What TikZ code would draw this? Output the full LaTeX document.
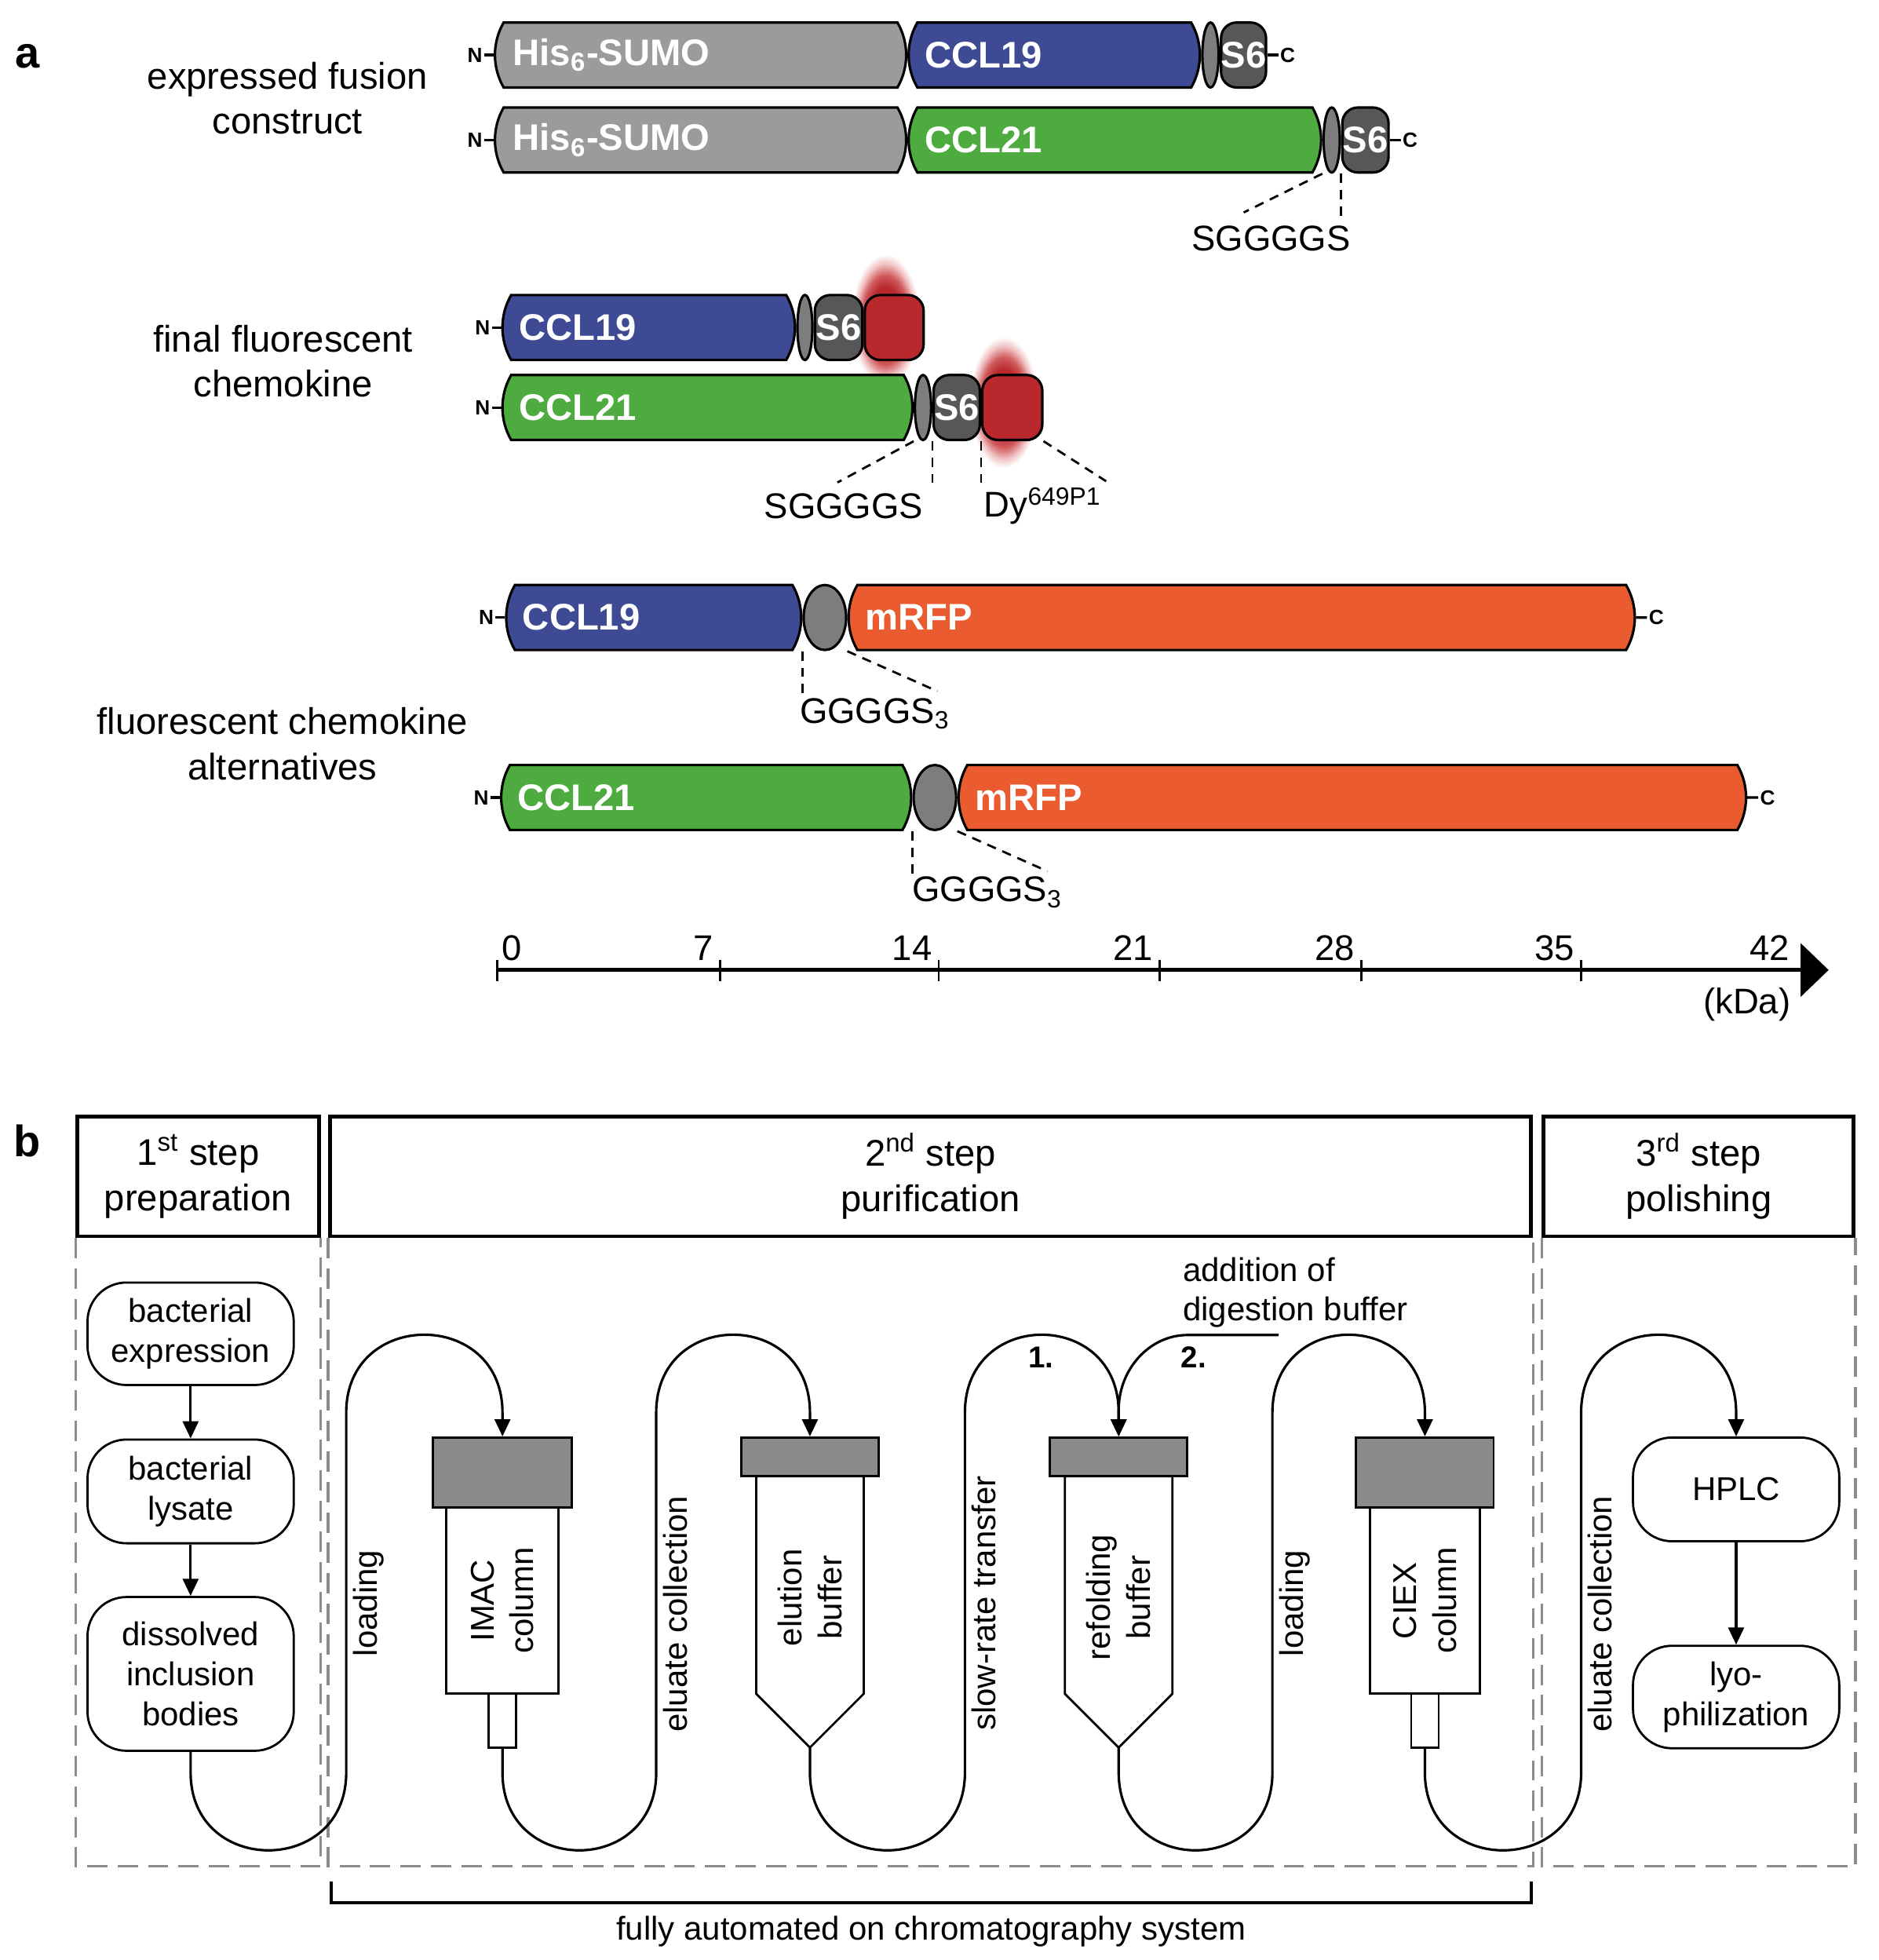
\documentclass[tikz,border=0pt]{standalone}
\usepackage{fontspec}
\setmainfont{Liberation Sans}
\usepackage{xcolor}
\usepackage{tikz}
\usetikzlibrary{arrows.meta,positioning,calc,shapes.misc,shapes.geometric}
\definecolor{sumo}{HTML}{9B9B9B}
\definecolor{blue19}{HTML}{3E4A94}
\definecolor{green21}{HTML}{4EAB3F}
\definecolor{linkgray}{HTML}{7D7D7D}
\definecolor{s6gray}{HTML}{575757}
\definecolor{dyered}{HTML}{B8282D}
\definecolor{dyehalo}{HTML}{D0595C}
\definecolor{dyepale}{HTML}{F1C4C5}
\definecolor{mrfp}{HTML}{EA5B30}
\definecolor{capgray}{HTML}{8A8A8A}
\definecolor{dashgray}{HTML}{8C8C8C}
\pgfdeclareradialshading{dyeglow}{\pgfpointorigin}{color(0bp)=(dyered); color(12.5bp)=(dyered); color(17bp)=(dyehalo); color(21.5bp)=(dyepale); color(25bp)=(white); color(50bp)=(white)}

\begin{document}
\begin{tikzpicture}[x=0.016cm, y=-0.016cm,
  w/.style={minimum width=#1*0.016cm},
  ht/.style={minimum height=#1*0.016cm},
  dom/.style={rounded rectangle, rounded rectangle arc length=60, draw=black, line width=0.9pt, minimum height=0.832cm, inner sep=0pt},
  knob/.style={rectangle, rounded corners=0.2cm, draw=black, line width=0.9pt, minimum height=0.832cm, inner sep=0pt},
  lnk/.style={ellipse, draw=black, line width=0.9pt, minimum height=0.832cm, inner sep=0pt, fill=linkgray},
  dlab/.style={font=\fontsize{13.5}{16}\selectfont\bfseries, text=white, inner sep=0pt},
  term/.style={font=\fontsize{7.5}{9}\selectfont\bfseries, inner sep=0.5pt},
  stub/.style={line width=0.9pt},
  seq/.style={font=\fontsize{13}{15}\selectfont, inner sep=0pt},
  dsh/.style={line width=0.8pt, dash pattern=on 0.12cm off 0.09cm},
  grp/.style={font=\fontsize{13.5}{16.5}\selectfont, align=center},
  panlab/.style={font=\fontsize{16}{18}\selectfont\bfseries},
  hdr/.style={draw, line width=1.4pt, align=center, inner sep=0pt, font=\fontsize{13.5}{16.5}\selectfont},
  panel/.style={draw=dashgray, line width=1pt, dash pattern=on 0.26cm off 0.13cm},
  txt/.style={font=\fontsize{12}{14.5}\selectfont},
  proc/.style={txt, draw, line width=0.8pt, rounded corners=0.5cm, align=center, inner sep=0pt, w=165},
  colcap/.style={draw, line width=0.8pt, fill=capgray, inner sep=0pt},
  colbody/.style={txt, draw, line width=0.8pt, fill=white, inner sep=0pt, align=center},
  tube/.style={line width=0.9pt, -{Triangle[length=0.22cm,width=0.2cm]}},
  vlab/.style={txt, rotate=90, anchor=north, inner sep=2pt},
  num/.style={font=\fontsize{11}{13}\selectfont\bfseries}]
\useasboundingbox (0,0) rectangle (1503,1568);

% ---------- a: constructs ----------
\node[panlab] (la) at (22,45) {a};
\node[grp] (g1) at (230,78.5) {expressed fusion\\construct};
\node[grp] (g2) at (226.5,289) {final fluorescent\\chemokine};
\node[grp] (g3) at (226,595) {fluorescent chemokine\\alternatives};

% halo of the dye
\shade[shading=dyeglow] (708.5,256) ellipse [x radius=0.44cm, y radius=0.84cm];
\shade[shading=dyeglow] (803,322) ellipse [x radius=0.44cm, y radius=0.84cm];

% row 1
\node[dom, fill=sumo, w=329, anchor=west] (his1) at (395,44) {};
\node[dom, fill=blue19, w=233, right=0pt of his1] (cc1) {};
\node[lnk, w=13, right=0pt of cc1] (lk1) {};
\node[knob, fill=s6gray, w=36, right=0pt of lk1] (sx1) {};
\node[term, left=0.12cm of his1] (na1) {N};
\node[term, right=0.14cm of sx1] (ca1) {C};
\draw[stub] (na1) -- (his1);
\draw[stub] (sx1) -- (ca1);
\node[dlab, right=0.24cm of his1.west] (th1) {His\textsubscript{6}-SUMO};
\node[dlab, right=0.22cm of cc1.west] (tc1) {CCL19};
\node[dlab] (ts1) at (sx1) {S6};

% row 2
\node[dom, fill=sumo, w=329, anchor=west] (his2) at (395,112) {};
\node[dom, fill=green21, w=330, right=0pt of his2] (cc2) {};
\node[lnk, w=13, right=0pt of cc2] (lk2) {};
\node[knob, fill=s6gray, w=37, right=0pt of lk2] (sx2) {};
\node[term, left=0.12cm of his2] (na2) {N};
\node[term, right=0.14cm of sx2] (ca2) {C};
\draw[stub] (na2) -- (his2);
\draw[stub] (sx2) -- (ca2);
\node[dlab, right=0.24cm of his2.west] (th2) {His\textsubscript{6}-SUMO};
\node[dlab, right=0.22cm of cc2.west] (tc2) {CCL21};
\node[dlab] (ts2) at (sx2) {S6};
\coordinate (sg2a) at (995,170);
\coordinate (sg2b) at (0,178);
\draw[dsh] (lk2.west |- lk2.south) -- (sg2a);
\draw[dsh] (lk2.east |- lk2.south) -- (lk2.east |- sg2b);
\node[seq] (sq2) at (1017,191) {SGGGGS};

% row 3
\node[dom, fill=blue19, w=234, anchor=west] (cc3) at (401,262) {};
\node[lnk, w=12, right=0pt of cc3] (lk3) {};
\node[knob, fill=s6gray, w=38, right=0pt of lk3] (sx3) {};
\node[knob, fill=dyered, w=47, right=0pt of sx3] (dye3) {};
\node[term, left=0.12cm of cc3] (na3) {N};
\draw[stub] (na3) -- (cc3);
\node[dlab, right=0.22cm of cc3.west] (tc3) {CCL19};
\node[dlab] (ts3) at (sx3) {S6};

% row 4
\node[dom, fill=green21, w=328, anchor=west] (cc4) at (401,326) {};
\node[lnk, w=13, right=0pt of cc4] (lk4) {};
\node[knob, fill=s6gray, w=37, right=0pt of lk4] (sx4) {};
\node[knob, fill=dyered, w=48, right=0pt of sx4] (dye4) {};
\node[term, left=0.12cm of cc4] (na4) {N};
\draw[stub] (na4) -- (cc4);
\node[dlab, right=0.22cm of cc4.west] (tc4) {CCL21};
\node[dlab] (ts4) at (sx4) {S6};
\coordinate (sg4a) at (670,386);
\coordinate (sg4b) at (0,386);
\coordinate (dy4a) at (885,385);
\draw[dsh] (lk4.west |- lk4.south) -- (sg4a);
\draw[dsh] (lk4.east |- lk4.south) -- (lk4.east |- sg4b);
\draw[dsh] (dye4.west |- dye4.south) -- (dye4.west |- sg4b);
\draw[dsh] (dye4.east |- dye4.south) -- (dy4a);
\node[seq] (sq4) at (675,405) {SGGGGS};
\node[seq, anchor=west] (dyl) at (787,405) {Dy\textsuperscript{649P1}};

% row 5
\node[dom, fill=blue19, w=236, anchor=west] (cc5) at (404,494) {};
\node[lnk, w=34, right=0pt of cc5] (lk5) {};
\node[dom, fill=mrfp, w=629, right=0pt of lk5] (mr5) {};
\node[term, left=0.12cm of cc5] (na5) {N};
\node[term, right=0.14cm of mr5] (ca5) {C};
\draw[stub] (na5) -- (cc5);
\draw[stub] (mr5) -- (ca5);
\node[dlab, right=0.22cm of cc5.west] (tc5) {CCL19};
\node[dlab, right=0.22cm of mr5.west] (tm5) {mRFP};
\coordinate (gg5a) at (750,553);
\coordinate (gg5b) at (0,555);
\draw[dsh] (lk5.west |- lk5.south) -- (lk5.west |- gg5b);
\draw[dsh] (lk5.east |- lk5.south) -- (gg5a);
\node[seq] (gq5) at (700,571) {GGGGS\textsubscript{3}};

% row 6
\node[dom, fill=green21, w=328, anchor=west] (cc6) at (400,638) {};
\node[lnk, w=34, right=0pt of cc6] (lk6) {};
\node[dom, fill=mrfp, w=630, right=0pt of lk6] (mr6) {};
\node[term, left=0.12cm of cc6] (na6) {N};
\node[term, right=0.14cm of mr6] (ca6) {C};
\draw[stub] (na6) -- (cc6);
\draw[stub] (mr6) -- (ca6);
\node[dlab, right=0.22cm of cc6.west] (tc6) {CCL21};
\node[dlab, right=0.22cm of mr6.west] (tm6) {mRFP};
\coordinate (gg6a) at (838,697);
\coordinate (gg6b) at (0,700);
\draw[dsh] (lk6.west |- lk6.south) -- (lk6.west |- gg6b);
\draw[dsh] (lk6.east |- lk6.south) -- (gg6a);
\node[seq] (gq6) at (790,714) {GGGGS\textsubscript{3}};

% kDa axis
\coordinate (ax0) at (398,776);
\coordinate (ax1) at (1463,776);
\draw[line width=1.5pt, -{Triangle[length=0.36cm,width=0.68cm]}] (ax0) -- (ax1);
\foreach \v/\x in {0/398,7/576,14/751,21/928,28/1089,35/1265}
  \draw[line width=0.8pt] (\x,768) -- (\x,785);
\node[seq, anchor=south west] (tk0) at (401,769) {0};
\foreach \v/\x in {7/576,14/751,21/928,28/1089,35/1265,42/1437}
  \node[seq, anchor=south east] (tk\v) at (\x-5,769) {\v};
\node[seq, anchor=north east] (kda) at (1433,790) {(kDa)};

% ---------- b: workflow ----------
\node[panlab] (lb) at (22,913) {b};
\node[hdr, w=193, ht=96] (st1) at (158.5,941) {1\textsuperscript{st} step\\preparation};
\node[hdr, w=961, ht=96] (st2) at (744.5,941) {2\textsuperscript{nd} step\\purification};
\node[hdr, w=248, ht=96] (st3) at (1359,941) {3\textsuperscript{rd} step\\polishing};
\coordinate (pbot) at (0,1493);
\draw[panel] (st1.south west) -- (st1.south west |- pbot) -- (st1.south east |- pbot) -- (st1.south east);
\draw[panel] (st2.south west) -- (st2.south west |- pbot) -- (st2.south east |- pbot) -- (st2.south east);
\draw[panel] (st3.south west) -- (st3.south west |- pbot) -- (st3.south east |- pbot) -- (st3.south east);

% preparation
\node[proc, ht=82] (bexp) at (152.5,1067) {bacterial\\expression};
\node[proc, ht=83, below=0.67cm of bexp] (blys) {bacterial\\lysate};
\node[proc, ht=123, below=0.66cm of blys] (bdis) {dissolved\\inclusion\\bodies};
\draw[tube] (bexp) -- (blys);
\draw[tube] (blys) -- (bdis);

% IMAC column
\node[colbody, rotate=90, w=149, ht=90] (imac) at (402,1280.5) {IMAC\\column};
\node[colcap, w=111, ht=56] (imaccap) at (402,1178) {};
\node[colbody, w=22, ht=43] (imacout) at (402,1376.5) {};

% elution buffer
\coordinate (elutip) at (648,1398);
\draw[line width=0.8pt, fill=white] (605,1181) -- (605,1355) -- (elutip) -- (691,1355) -- (691,1181) -- cycle;
\node[colcap, w=110, ht=31] (elucap) at (648,1165.5) {};
\node[txt, rotate=90, align=center] (elut) at (648,1278) {elution\\buffer};

% refolding buffer
\coordinate (reftip) at (895,1398);
\draw[line width=0.8pt, fill=white] (852,1181) -- (852,1355) -- (reftip) -- (938,1355) -- (938,1181) -- cycle;
\node[colcap, w=110, ht=31] (refcap) at (895,1165.5) {};
\node[txt, rotate=90, align=center] (reft) at (895,1278) {refolding\\buffer};

% CIEX column
\node[colbody, rotate=90, w=149, ht=88] (ciex) at (1140,1280.5) {CIEX\\column};
\node[colcap, w=110, ht=56] (ciexcap) at (1140,1178) {};
\node[colbody, w=22, ht=43] (ciexout) at (1140,1376.5) {};

% polishing
\node[proc, ht=83] (hplc) at (1389,1191.5) {HPLC};
\node[proc, ht=82, below=1.31cm of hplc] (lyo) {lyo-\\philization};
\draw[tube] (hplc) -- (lyo);

% tubing
\draw[tube] (bdis.south) -- (152.5,1418) .. controls (152.5,1501) and (277,1501) .. (277,1418)
  -- node[vlab, pos=0.47] (ld1) {loading} (277,1130)
  .. controls (277,1047) and (402,1047) .. (402,1130) -- (imaccap.north);
\draw[tube] (imacout.south) -- (402,1418) .. controls (402,1501) and (525,1501) .. (525,1418)
  -- node[vlab, pos=0.44] (ec1) {eluate collection} (525,1130)
  .. controls (525,1047) and (648,1047) .. (648,1130) -- (elucap.north);
\draw[tube] (elutip) -- (648,1418) .. controls (648,1501) and (772,1501) .. (772,1418)
  -- node[vlab, pos=0.47] (srt) {slow-rate transfer} (772,1130)
  .. controls (772,1047) and (895,1047) .. (895,1130) -- (refcap.north);
\draw[tube] (reftip) -- (895,1418) .. controls (895,1501) and (1018,1501) .. (1018,1418)
  -- node[vlab, pos=0.47] (ld2) {loading} (1018,1130)
  .. controls (1018,1047) and (1140,1047) .. (1140,1130) -- (ciexcap.north);
\draw[tube] (ciexout.south) -- (1140,1418) .. controls (1140,1501) and (1265,1501) .. (1265,1418)
  -- node[vlab, pos=0.44] (ec2) {eluate collection} (1265,1130)
  .. controls (1265,1047) and (1389,1047) .. (1389,1130) -- (hplc.north);

% digestion buffer feed
\node[txt, anchor=west, align=left, inner sep=0pt] (addt) at (946,1034) {addition of\\digestion buffer};
\coordinate (digst) at (1023,1068);
\draw[tube] (digst) -- (950,1068) .. controls (920,1068) and (895,1095) .. (895,1128) -- (refcap.north);
\node[num] (k1) at (833,1086) {1.};
\node[num] (k2) at (955,1086) {2.};

% automation bracket
\draw[line width=1.1pt] (265,1505) -- (265,1522)
  -- node[txt, below=1pt] (auto) {fully automated on chromatography system} (1225,1522) -- (1225,1505);
\end{tikzpicture}
\end{document}
